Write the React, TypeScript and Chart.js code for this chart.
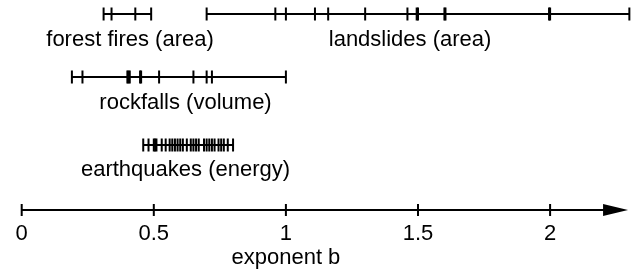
import React, { useEffect, useRef } from "react";
import { Chart, registerables } from "chart.js";
Chart.register(...registerables);

const categories = ["forest fires (area)", "landslides (area)", "rockfalls (volume)", "earthquakes (energy)"];
const forestFires = [0.31, 0.34, 0.43, 0.49];
const landslides = [0.7, 0.96, 1.0, 1.11, 1.16, 1.3, 1.46, 1.495, 1.5, 1.6, 1.604, 1.996, 2.0, 2.3];
const rockfalls = [0.19, 0.23, 0.4, 0.404, 0.409, 0.448, 0.452, 0.52, 0.65, 0.7, 0.72, 1.0];
const earthquakes = [0.46, 0.48, 0.5, 0.505, 0.51, 0.53, 0.545, 0.56, 0.57, 0.58, 0.59, 0.6, 0.61, 0.625, 0.64, 0.65, 0.66, 0.67, 0.69, 0.7, 0.71, 0.72, 0.73, 0.745, 0.755, 0.765, 0.78, 0.8];
const seriesValues = [forestFires, landslides, rockfalls, earthquakes];
const axisTicks = [0, 0.5, 1, 1.5, 2];
const axisTickLabels = ["0", "0.5", "1", "1.5", "2"];
const axisEnd = 2.295;
const axisTitle = "exponent b";

// layout (vertical positions in pixels, label x anchors in data units)
const rowY = [14, 14, 77, 145];
const labelY = [40, 40, 103, 170];
const labelX = [0.41, 1.47, 0.62, 0.62];
const axisY = 210;
const tickLabelY = 234;
const titleY = 258;
const FONT = "22px 'Liberation Sans', Arial, sans-serif";

export default function App() {
  const ref = useRef<HTMLCanvasElement>(null);
  useEffect(() => {
    document.body.style.margin = "0";
    const canvas = ref.current!;
    const datasets: any[] = [];
    seriesValues.forEach((vals, i) => {
      const lo = Math.min(...vals);
      const hi = Math.max(...vals);
      datasets.push({
        type: "line",
        data: [{ x: lo, y: rowY[i] }, { x: hi, y: rowY[i] }],
        borderColor: "#000",
        borderWidth: 2,
        pointRadius: 0,
      });
      datasets.push({
        type: "scatter",
        data: vals.map((v) => ({ x: v, y: rowY[i] })),
        pointStyle: "line",
        rotation: 90,
        pointRadius: 6.5,
        borderColor: "#000",
        backgroundColor: "#000",
        borderWidth: 2,
      });
    });
    datasets.push({
      type: "line",
      data: [{ x: 0, y: axisY }, { x: axisEnd - 0.05, y: axisY }],
      borderColor: "#000",
      borderWidth: 2,
      pointRadius: 0,
    });
    datasets.push({
      type: "scatter",
      data: axisTicks.map((v) => ({ x: v, y: axisY })),
      pointStyle: "line",
      rotation: 90,
      pointRadius: 6,
      borderColor: "#000",
      borderWidth: 2,
    });

    const textPlugin = {
      id: "texts",
      afterDatasetsDraw(chart: any) {
        const ctx = chart.ctx;
        const xs = chart.scales.x;
        const ys = chart.scales.y;
        ctx.save();
        // arrowhead
        const tipX = xs.getPixelForValue(axisEnd);
        const ay = ys.getPixelForValue(axisY);
        ctx.fillStyle = "#000";
        ctx.beginPath();
        ctx.moveTo(tipX, ay);
        ctx.lineTo(tipX - 25, ay - 6);
        ctx.lineTo(tipX - 25, ay + 6);
        ctx.closePath();
        ctx.fill();
        ctx.font = FONT;
        ctx.textAlign = "center";
        ctx.textBaseline = "middle";
        categories.forEach((c, i) => {
          ctx.fillText(c, xs.getPixelForValue(labelX[i]), ys.getPixelForValue(labelY[i]));
        });
        axisTicks.forEach((t, i) => {
          ctx.fillText(axisTickLabels[i], xs.getPixelForValue(t), ys.getPixelForValue(tickLabelY));
        });
        ctx.fillText(axisTitle, xs.getPixelForValue(1), ys.getPixelForValue(titleY));
        ctx.restore();
      },
    };

    const chart = new Chart(canvas, {
      type: "scatter",
      data: { datasets },
      options: {
        animation: false,
        responsive: false,
        maintainAspectRatio: false,
        layout: { padding: 0, autoPadding: false },
        plugins: { legend: { display: false }, tooltip: { enabled: false } },
        scales: {
          x: { type: "linear", display: false, min: -21.7 / 264.2, max: (635 - 21.7) / 264.2 },
          y: { type: "linear", display: false, min: 0, max: 273, reverse: true },
        },
      },
      plugins: [textPlugin],
    });
    return () => chart.destroy();
  }, []);
  return <canvas ref={ref} width={635} height={273} style={{ display: "block" }} />;
}
